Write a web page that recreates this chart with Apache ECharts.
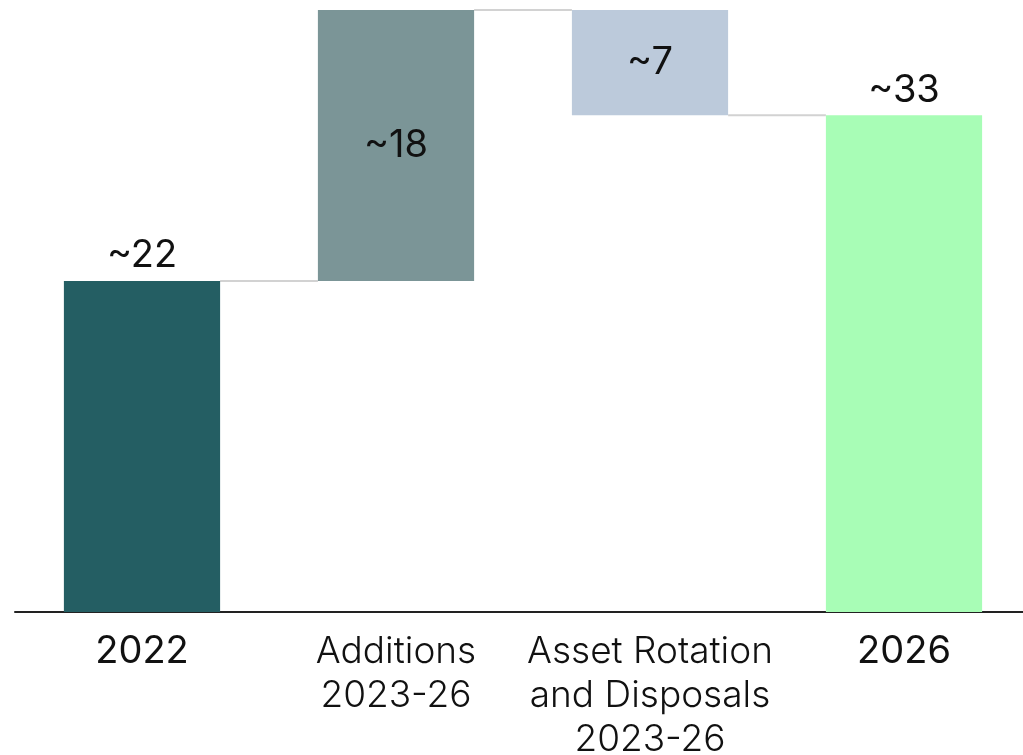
<!DOCTYPE html>
<html>
<head>
<meta charset="utf-8">
<script src="https://cdn.jsdelivr.net/npm/echarts@6/dist/echarts.min.js"></script>
<style>
  html, body { margin: 0; padding: 0; background: #ffffff; }
  #chart { width: 1023px; height: 755px; }
</style>
</head>
<body>
<div id="chart"></div>
<script>
// Portfolio bridge: 2022 start, additions, asset rotation / disposals, 2026 end
const categories = ['2022', 'Additions\n2023-26', 'Asset Rotation\nand Disposals\n2023-26', '2026'];
const changes = [22, 18, -7, 33];          // totals at both ends, deltas in between
const isTotal = [true, false, false, true];
const barColors = ['#245e63', '#7b9597', '#bccadb', '#a8fdb6'];

// Build invisible base + visible segment for each step of the waterfall
const baseValues = [];
const barValues = [];
const tops = [];     // upper edge of each visible bar
let running = 0;
changes.forEach((v, i) => {
  if (isTotal[i]) {
    baseValues.push(0);
    barValues.push(v);
    running = v;
    tops.push(v);
  } else if (v >= 0) {
    baseValues.push(running);
    barValues.push(v);
    running += v;
    tops.push(running);
  } else {
    tops.push(running);
    running += v;
    baseValues.push(running);
    barValues.push(-v);
  }
});

// Connector between consecutive bars, at the level the left bar ends at
const connectors = [];
for (let i = 0; i < categories.length - 1; i++) {
  const level = (changes[i] < 0) ? baseValues[i] : tops[i];
  connectors.push([i, level]);
}

const BAR_RATIO = 0.615;
const FONT = 'Inter, "Noto Sans", sans-serif';

const chart = echarts.init(document.getElementById('chart'), null, { renderer: 'canvas' });
chart.setOption({
  animation: false,
  grid: { left: 15, width: 1016, top: 10, bottom: 143, containLabel: false, outerBoundsMode: 'none' },
  xAxis: {
    type: 'category',
    data: categories,
    axisLine: { show: true, lineStyle: { color: '#222222', width: 2 } },
    axisTick: { show: false },
    axisLabel: {
      interval: 0,
      margin: 18,
      color: '#111111',
      fontFamily: FONT,
      fontSize: 37,
      lineHeight: 44,
      fontWeight: 300,
      formatter: (val, idx) => isTotal[idx] ? '{b|' + val + '}' : val,
      rich: {
        b: { fontFamily: FONT, fontSize: 38, lineHeight: 44, fontWeight: 400, color: '#111111' }
      }
    }
  },
  yAxis: {
    type: 'value',
    min: 0,
    max: 40,
    show: false,
    splitLine: { show: false }
  },
  series: [
    {
      name: 'base',
      type: 'bar',
      stack: 'wf',
      barWidth: (BAR_RATIO * 100) + '%',
      itemStyle: { color: 'transparent' },
      silent: true,
      data: baseValues
    },
    {
      name: 'value',
      type: 'bar',
      stack: 'wf',
      barWidth: (BAR_RATIO * 100) + '%',
      data: barValues.map((v, i) => ({
        value: v,
        itemStyle: { color: barColors[i] },
        label: {
          show: true,
          position: isTotal[i] ? 'top' : 'inside',
          distance: 6,
          formatter: '~' + Math.abs(changes[i]),
          color: '#111111',
          fontFamily: FONT,
          fontSize: 38,
          fontWeight: 400
        }
      }))
    },
    {
      name: 'connectors',
      type: 'custom',
      silent: true,
      z: 1,
      encode: { x: 0, y: 1 },
      data: connectors,
      renderItem: (params, api) => {
        const i = api.value(0);
        const p0 = api.coord([i, api.value(1)]);
        const p1 = api.coord([i + 1, api.value(1)]);
        const band = api.size([1, 0])[0];
        const half = band * BAR_RATIO / 2;
        return {
          type: 'line',
          shape: { x1: p0[0] + half, y1: p0[1], x2: p1[0] - half, y2: p1[1] },
          style: { stroke: '#d2d2d2', lineWidth: 2 }
        };
      }
    }
  ]
});
</script>
</body>
</html>
